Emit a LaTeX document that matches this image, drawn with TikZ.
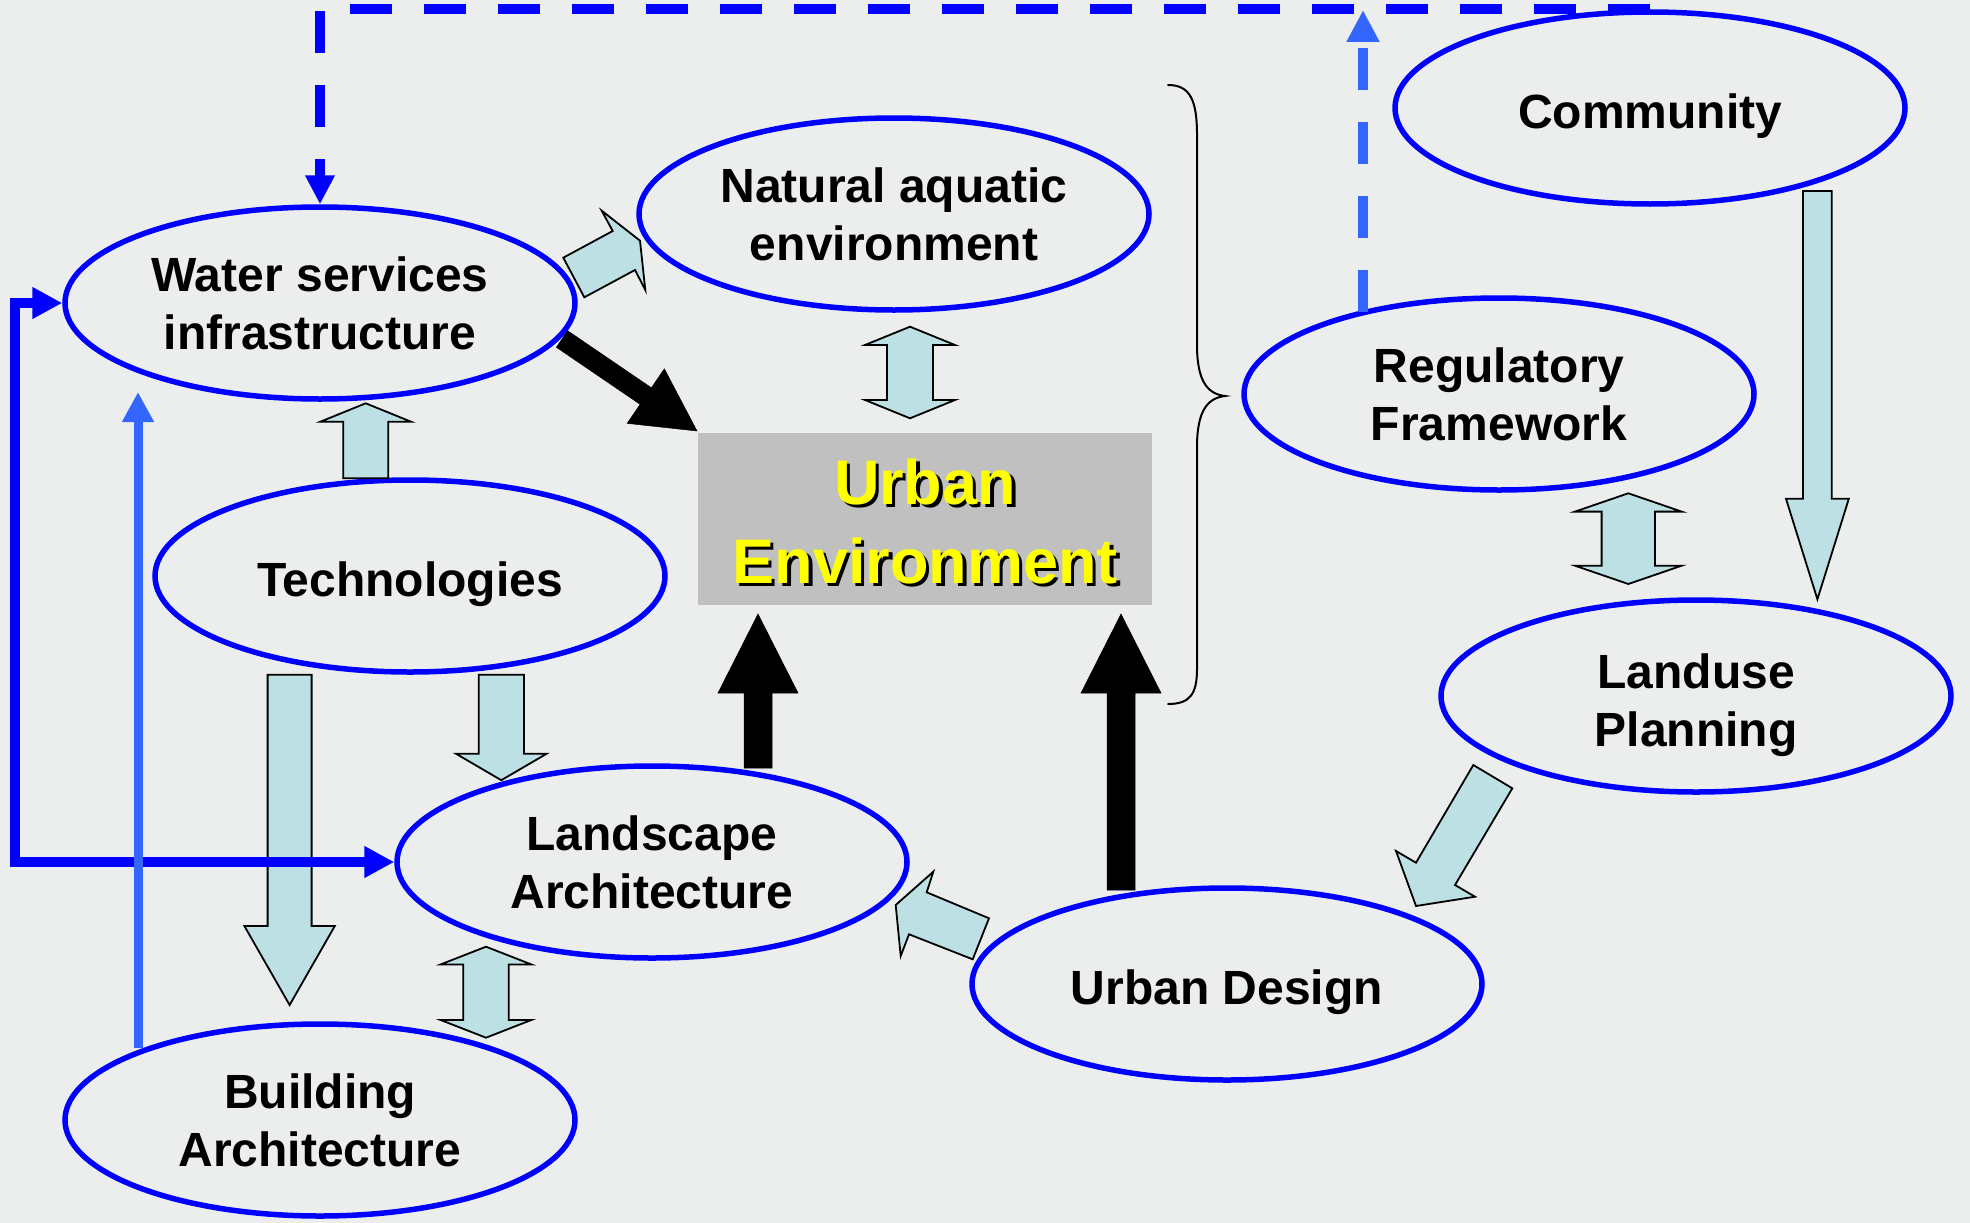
\documentclass[tikz,border=0pt]{standalone}
\usepackage{fontspec}
\setmainfont{Liberation Sans}
\usetikzlibrary{shapes.geometric,arrows.meta,calc}
\definecolor{bgcol}{RGB}{236,238,238}
\definecolor{eblue}{RGB}{0,0,255}
\definecolor{lblue}{RGB}{51,102,255}
\definecolor{afill}{RGB}{188,224,228}
\definecolor{ugray}{RGB}{192,192,192}
\definecolor{uyellow}{RGB}{255,255,0}
\newcommand{\ellfont}{\fontsize{48}{58}\selectfont\bfseries}
\newcommand{\uefont}{\fontsize{63}{79}\selectfont\bfseries}
% single block arrow: style, start, tip, half shaft, half head, head length
\newcommand{\blockarrow}[6]{%
  \coordinate (baA) at #2;
  \coordinate (baB) at #3;
  \coordinate (baH) at ($(baB)!#6!(baA)$);
  \draw[#1] ($(baA)!#4!90:(baB)$) -- ($(baH)!#4!-90:(baA)$) -- ($(baH)!#5!-90:(baA)$) -- (baB)
    -- ($(baH)!#5!90:(baA)$) -- ($(baH)!#4!90:(baA)$) -- ($(baA)!#4!-90:(baB)$) -- cycle;
}
% double block arrow: style, tip A, tip B, half shaft, half head, head length
\newcommand{\dblockarrow}[6]{%
  \coordinate (dbA) at #2;
  \coordinate (dbB) at #3;
  \coordinate (dbHA) at ($(dbA)!#6!(dbB)$);
  \coordinate (dbHB) at ($(dbB)!#6!(dbA)$);
  \draw[#1] (dbA) -- ($(dbHA)!#5!90:(dbB)$) -- ($(dbHA)!#4!90:(dbB)$) -- ($(dbHB)!#4!-90:(dbA)$)
    -- ($(dbHB)!#5!-90:(dbA)$) -- (dbB) -- ($(dbHB)!#5!90:(dbA)$) -- ($(dbHB)!#4!90:(dbA)$)
    -- ($(dbHA)!#4!-90:(dbB)$) -- ($(dbHA)!#5!-90:(dbB)$) -- cycle;
}
\begin{document}
\begin{tikzpicture}[x=1pt,y=-1pt,
  ell/.style={ellipse, draw=eblue, line width=5.5pt, minimum width=510pt, minimum height=192pt,
    inner sep=0pt, align=center, font=\ellfont, text=black},
  oneline/.style={text height=40pt, text depth=0pt},
  larrow/.style={fill=afill, draw=black, line width=1.8pt, line join=miter},
  barrow/.style={fill=black, draw=black, line width=0.5pt, line join=miter},
  uetxt/.style={align=center, inner sep=0pt, font=\uefont},
  darkdash/.style={draw=eblue, line width=10pt, dash pattern=on 42pt off 32pt},
  lightdash/.style={draw=lblue, line width=10pt, dash pattern=on 42pt off 32pt},
  darkline/.style={draw=eblue, line width=10pt},
  lightline/.style={draw=lblue, line width=9pt}]
\path[use as bounding box, fill=bgcol] (0,0) rectangle (1970,1223);

% ellipses
\node[ell] (water) at (320,303) {Water services\\infrastructure};
\node[ell] (natural) at (894,214) {Natural aquatic\\environment};
\node[ell, oneline] (community) at (1650,108) {Community};
\node[ell] (regulatory) at (1499,394) {Regulatory\\Framework};
\node[ell, oneline] (tech) at (410,576) {Technologies};
\node[ell, text height=110pt, text depth=10pt] (landuse) at (1696,696) {Landuse\\Planning};
\node[ell] (landscape) at (652,862) {Landscape\\Architecture};
\node[ell, oneline] (udesign) at (1227,984) {Urban Design};
\node[ell] (building) at (320,1120) {Building\\Architecture};

% urban environment box
\node[fill=ugray, minimum width=454pt, minimum height=172pt, inner sep=0pt] (ue) at (925,519) {};
\node[uetxt, text=black] (ueshadow) at (928.5,524.5) {Urban\\Environment};
\node[uetxt, text=uyellow] (uetext) at (925,521) {Urban\\Environment};

% brace
\draw[line width=2pt, line cap=round] (1168,85) .. controls (1190,85) and (1197,100) .. (1197,135)
  -- (1197,345) .. controls (1197,382) and (1208,394) .. (1225,396)
  .. controls (1208,398) and (1197,410) .. (1197,447)
  -- (1197,669) .. controls (1197,694) and (1190,704) .. (1168,704);

% black arrows to the urban environment
\blockarrow{barrow}{(562,339)}{(697,431)}{10pt}{33pt}{62pt}
\blockarrow{barrow}{(758,768)}{(758,614)}{14pt}{40pt}{79pt}
\blockarrow{barrow}{(1121,890)}{(1121,614)}{14pt}{40pt}{79pt}

% light block arrows
\blockarrow{larrow}{(365.7,478.3)}{(365.7,403.3)}{22.5pt}{45.3pt}{18.4pt}
\blockarrow{larrow}{(501.3,674.7)}{(501.3,780.2)}{22.6pt}{45.2pt}{26.4pt}
\blockarrow{larrow}{(289.6,674.7)}{(289.6,1005)}{22pt}{45.2pt}{79pt}
\blockarrow{larrow}{(1817.4,191)}{(1817.4,599.3)}{14.4pt}{31.4pt}{100.5pt}
\dblockarrow{larrow}{(910,326.7)}{(910,418.3)}{23pt}{45pt}{18.3pt}
\dblockarrow{larrow}{(1628.3,493.3)}{(1628.3,584)}{26.7pt}{53.3pt}{18.3pt}
\dblockarrow{larrow}{(486,946.7)}{(486,1037.7)}{22.8pt}{45.3pt}{17.7pt}
% skewed arrows
\draw[larrow] (563.3,257.7) -- (612.7,231) -- (601.7,210.7) -- (640,240.7) -- (645.3,290)
  -- (635,270) -- (584.3,297.3) -- cycle;
\draw[larrow] (895.7,905) -- (933.3,871.7) -- (926.7,892.3) -- (989,918.3) -- (972.7,959.3)
  -- (909,934.3) -- (900.7,956) -- cycle;
\draw[larrow] (1473.3,765) -- (1512.3,788.3) -- (1455,885) -- (1475,896.7) -- (1416,906)
  -- (1396,851) -- (1416,862.7) -- cycle;

% blue connectors
\coordinate (lcorner) at (15,303);
\draw[darkline, {Triangle[length=30pt,width=30pt]}-{Triangle[length=30pt,width=30pt]}]
  (water.west) -- (lcorner) |- (landscape.west);
\coordinate (bstart) at (138,1048);
\coordinate (btip) at (138,392);
\draw[lightline, -{Triangle[length=30pt,width=30pt]}] (bstart) -- (btip);
\draw[darkdash, -{Triangle[length=29pt,width=28pt]}] (community.north) -| (water.north);
\coordinate (rstart) at (1363,312);
\coordinate (rtip) at (1363,10);
\draw[lightdash, -{Triangle[length=32pt,width=31pt]}] (rstart) -- (rtip);
\end{tikzpicture}
\end{document}
